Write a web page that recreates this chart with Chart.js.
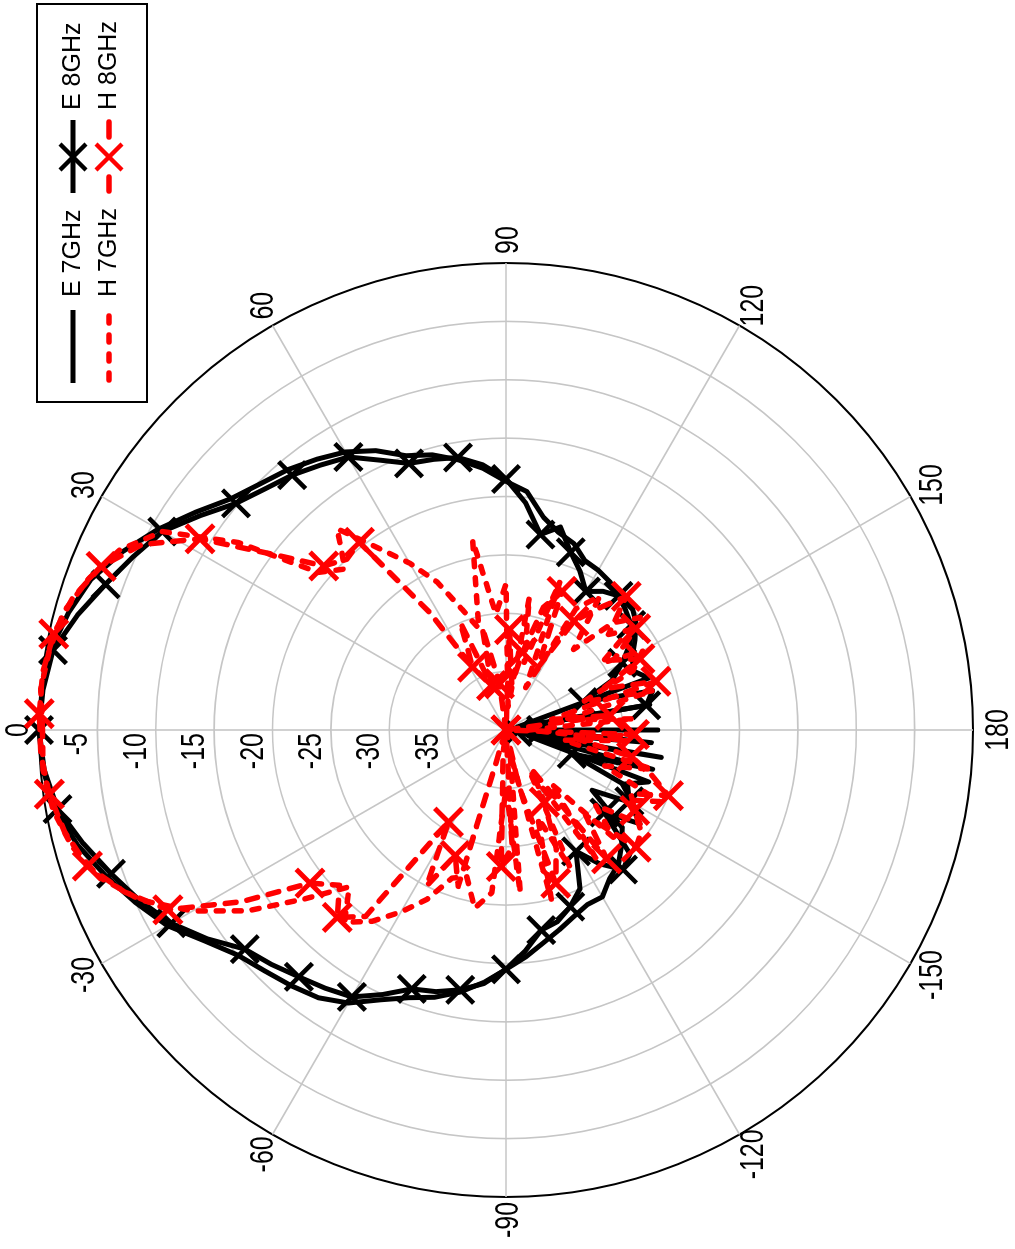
<!DOCTYPE html>
<html>
<head>
<meta charset="utf-8">
<script src="https://cdn.jsdelivr.net/npm/chart.js@4.4.1/dist/chart.umd.min.js"></script>
<style>
  html, body { margin: 0; padding: 0; background: #fff; overflow: hidden; }
  #wrap { position: relative; width: 1015px; height: 1249px; overflow: hidden; }
  /* the plot is drawn upright and turned a quarter turn, like the scanned figure */
  #polar { position: absolute; left: 0; top: 0; transform-origin: 0 0; transform: translateY(1249px) rotate(-90deg); }
</style>
</head>
<body>
<div id="wrap"><canvas id="polar" width="1249" height="1015"></canvas></div>
<script>
// dB values, one every 5 degrees (0, 5, 10 ... 355; 185 = -175 etc.)
const STEP = 5;
const E7_START = 0;
const E7_DB = [
  0, -0.1, -0.4, -1.2, -2.2, -3.8, -5.6, -7.5, -9.2, -10.2, -10.9, -11.7,
  -12.5, -13.6, -15.0, -15.6, -16.5, -17.5, -18.7, -19.5, -21.5, -22.5, -23.0, -24.0,
  -24.2, -24.5, -25.0, -24.8, -25.5, -26.5, -27.5, -28, -27, -39, -27.5, -40,
  -27, -40, -26.5, -38, -27, -29, -27.5, -31, -27, -26, -25, -24.5,
  -23.5, -23.5, -23, -22.3, -21.5, -20.5, -19.5, -18.3, -17.2, -16.3, -15.6, -14.5,
  -13.0, -12.0, -11.4, -10.8, -10.0, -8.5, -6.5, -5.0, -3.5, -2.0, -0.8, -0.2
];
const E8_START = 0;
const E8_DB = [
  0, -0.2, -0.6, -2.0, -3.5, -4.8, -6.0, -8.0, -9.8, -10.8, -11.5, -12.3,
  -13.0, -14.5, -15.7, -16.0, -16.3, -17.2, -18.5, -20.5, -23.0, -22.0, -23.8, -25.0,
  -26.3, -25.5, -25.0, -25.5, -26.0, -27.0, -28.5, -30, -33, -27, -27.8, -40,
  -37, -27.5, -39, -27, -34, -28.5, -27.8, -26, -29, -25, -24.4, -26,
  -28, -25, -23.9, -23, -22.6, -21, -19.5, -18.2, -17.4, -16.8, -16.4, -15,
  -13.6, -13, -12.4, -11.6, -10.8, -8.8, -6.9, -5.4, -4.0, -2.5, -1.0, -0.3
];
const H7_START = 0;
const H7_DB = [
  -0.3, 0, -0.3, -0.8, -2.0, -3.5, -6.0, -12, -19, -20.5, -17.5, -21,
  -23.5, -26, -29, -31, -23.5, -30, -27.5, -38, -28.5, -34, -26.5, -36,
  -28, -26, -31, -27, -25, -30, -26.5, -28, -33, -27, -35, -29,
  -38, -29.5, -35, -27, -31, -25.5, -28, -26, -30, -27, -34, -26.5,
  -36, -27, -32, -25, -38, -26, -35, -26, -24.5, -27, -26.5, -24,
  -22, -20, -18.5, -21, -17.5, -13, -9, -5.5, -3, -1.5, -0.6, -0.2
];
// H 8GHz was sampled 2 degrees off the others (2, 7, 12 ... 357)
const H8_START = 2;
const H8_DB = [
  0, 0, -0.4, -1.2, -2.6, -5, -9.1, -15, -19, -20, -19.6, -28,
  -33.9, -30, -36, -31, -36, -40, -31.4, -36, -33.2, -29, -27.2, -34,
  -29, -27, -24.6, -28, -25.9, -29, -27, -31, -26.5, -36, -31, -40,
  -29, -34, -29, -27, -25, -28, -27, -25.5, -25, -30, -26, -36,
  -33, -29, -26.2, -35, -40, -30, -28.3, -38, -40, -26, -28.4, -25,
  -30.7, -20, -18.4, -20.5, -18.7, -13, -7.2, -4.5, -2.3, -1.2, -0.5, -0.1
];

const DB_TICKS = [-5, -10, -15, -20, -25, -30, -35];
const ANGLE_TICKS = [0, 30, 60, 90, 120, 150, 180, -150, -120, -90, -60, -30];

const CX = 519, CY = 506, RADIUS = 467;
const GRID = '#c6c6c6';
const FONT = '"Liberation Sans", Arial, sans-serif';

// radar needs one label per degree; each series fills only its own angles
const labels = [];
for (let a = 0; a < 360; a++) labels.push(a <= 180 ? a : a - 360);

const toTable = (vals, start) => {
  const t = new Array(360).fill(null);
  vals.forEach((v, i) => { t[(start + i * STEP) % 360] = v; });
  return t;
};

// tall narrow lettering of the original axis labels
const tallText = (ctx, txt, x, y) => {
  ctx.save();
  ctx.translate(x, y);
  ctx.scale(1, 1.35);
  ctx.fillText(txt, 0, 0);
  ctx.restore();
};

const cross = (ctx, x, y, h) => {
  ctx.beginPath();
  ctx.moveTo(x - h, y - h); ctx.lineTo(x + h, y + h);
  ctx.moveTo(x - h, y + h); ctx.lineTo(x + h, y - h);
  ctx.stroke();
};

const polarText = {
  id: 'polarText',
  afterLayout(chart) {
    const s = chart.scales.r;
    s.xCenter = CX;
    s.yCenter = CY;
    s.drawingArea = RADIUS;
  },
  beforeDatasetsDraw(chart) {
    const { ctx } = chart;
    const s = chart.scales.r;
    ctx.save();
    ctx.fillStyle = '#000';
    ctx.font = '25px ' + FONT;
    ctx.textBaseline = 'alphabetic';
    ctx.textAlign = 'center';
    ANGLE_TICKS.forEach(a => {
      const p = s.getPointPosition((a + 360) % 360, s.drawingArea + 23);
      tallText(ctx, String(a), p.x, p.y + 12);
    });
    ctx.textAlign = 'right';
    DB_TICKS.forEach(v => {
      const d = s.getDistanceFromCenterForValue(v);
      tallText(ctx, String(v), s.xCenter - 3, s.yCenter - d - 10);
    });
    ctx.restore();
  },
  afterDraw(chart) {
    const { ctx } = chart;
    const y1 = 73, y2 = 109;
    ctx.save();
    ctx.strokeStyle = '#000';
    ctx.lineWidth = 2;
    ctx.strokeRect(847, 37, 398, 110);

    ctx.lineWidth = 5;
    ctx.beginPath(); ctx.moveTo(866, y1); ctx.lineTo(939, y1); ctx.stroke();
    ctx.beginPath(); ctx.moveTo(1056, y1); ctx.lineTo(1129, y1); ctx.stroke();
    ctx.lineWidth = 4.5;
    cross(ctx, 1092, y1, 13);

    ctx.strokeStyle = '#f00';
    ctx.lineWidth = 5.5;
    ctx.lineCap = 'round';
    ctx.setLineDash([7, 12]);
    ctx.beginPath(); ctx.moveTo(869, y2); ctx.lineTo(939, y2); ctx.stroke();
    ctx.setLineDash([]);
    ctx.beginPath(); ctx.moveTo(1058, y2); ctx.lineTo(1072, y2); ctx.stroke();
    ctx.beginPath(); ctx.moveTo(1112, y2); ctx.lineTo(1127, y2); ctx.stroke();
    ctx.lineCap = 'butt';
    ctx.lineWidth = 4.5;
    cross(ctx, 1092, y2, 13);

    ctx.fillStyle = '#000';
    ctx.font = '25px ' + FONT;
    ctx.textBaseline = 'middle';
    ctx.textAlign = 'left';
    ctx.fillText('E 7GHz', 952, y1);
    ctx.fillText('E 8GHz', 1139, y1);
    ctx.fillText('H 7GHz', 952, y2);
    ctx.fillText('H 8GHz', 1139, y2);
    ctx.restore();
  }
};

new Chart(document.getElementById('polar'), {
  type: 'radar',
  data: {
    labels: labels,
    datasets: [
      {
        label: 'E 7GHz', data: toTable(E7_DB, E7_START), order: 4,
        borderColor: '#000', borderWidth: 5, pointRadius: 0
      },
      {
        label: 'E 8GHz', data: toTable(E8_DB, E8_START), order: 3,
        borderColor: '#000', borderWidth: 5,
        pointStyle: 'crossRot', pointBorderColor: '#000', pointBorderWidth: 4.5,
        pointRadius: c => c.index % 10 === 0 ? 19 : 0
      },
      {
        label: 'H 7GHz', data: toTable(H7_DB, H7_START), order: 2,
        borderColor: '#f00', borderWidth: 5.5, borderDash: [7, 11], borderCapStyle: 'round',
        pointRadius: 0
      },
      {
        label: 'H 8GHz', data: toTable(H8_DB, H8_START), order: 1,
        borderColor: '#f00', borderWidth: 5.5, borderDash: [11, 11], borderCapStyle: 'round',
        pointStyle: 'crossRot', pointBorderColor: '#f00', pointBorderWidth: 5,
        pointRadius: c => c.index % 10 === 2 ? 19.5 : 0
      }
    ].map(d => Object.assign({ fill: false, spanGaps: true, backgroundColor: 'rgba(0,0,0,0)', borderJoinStyle: 'round' }, d))
  },
  options: {
    responsive: false,
    animation: false,
    events: [],
    layout: { padding: { left: 52, right: 262, top: 39, bottom: 42 } },
    plugins: { legend: { display: false }, tooltip: { enabled: false } },
    scales: {
      r: {
        min: -40,
        max: 0,
        startAngle: 0,
        ticks: { display: false, stepSize: 5 },
        pointLabels: { display: false },
        grid: {
          circular: true,
          color: c => (c.tick && c.tick.value === 0) ? '#000' : GRID,
          lineWidth: c => (c.tick && c.tick.value === 0) ? 2 : 1.6
        },
        angleLines: {
          color: GRID,
          lineWidth: c => c.index % 30 === 0 ? 1.6 : 0
        }
      }
    }
  },
  plugins: [polarText]
});
</script>
</body>
</html>
